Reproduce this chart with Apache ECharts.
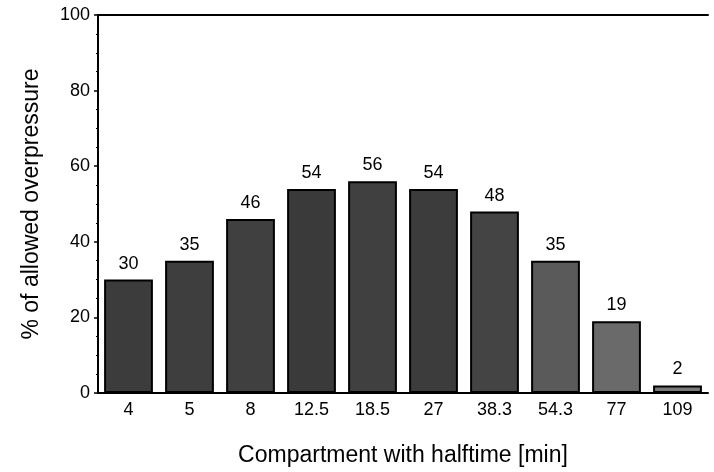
<!DOCTYPE html>
<html>
<head>
<meta charset="utf-8">
<script src="https://cdn.jsdelivr.net/npm/echarts@6/dist/echarts.min.js"></script>
<style>html,body{margin:0;padding:0;background:#fff}#c{width:714px;height:472px}</style>
</head>
<body>
<div id="c"></div>
<script>
var categories = ['4', '5', '8', '12.5', '18.5', '27', '38.3', '54.3', '77', '109'];
var values = [30, 35, 46, 54, 56, 54, 48, 35, 19, 2];
var barColors = ['#3c3c3c', '#3e3e3e', '#404040', '#3a3a3a', '#404040', '#3c3c3c', '#444444', '#5a5a5a', '#6a6a6a', '#7a7a7a'];
var yTicks = [0, 20, 40, 60, 80, 100];

var font = 'Liberation Sans, Arial, Helvetica, sans-serif';
var chart = echarts.init(document.getElementById('c'));
chart.setOption({
  animation: false,
  backgroundColor: '#ffffff',
  grid: { left: 98, right: 6, top: 15, bottom: 78 },
  xAxis: [{
    type: 'category',
    data: categories,
    name: 'Compartment with halftime [min]',
    nameLocation: 'middle',
    nameGap: 51,
    nameTextStyle: { fontFamily: font, fontSize: 23, color: '#000' },
    axisLine: { show: true, lineStyle: { color: '#000', width: 2 } },
    axisTick: { show: false },
    axisLabel: { fontFamily: font, fontSize: 18, color: '#000', margin: 8 }
  }, {
    type: 'category',
    data: categories,
    position: 'top',
    axisLine: { show: true, lineStyle: { color: '#000', width: 2 } },
    axisTick: { show: false },
    axisLabel: { show: false }
  }],
  yAxis: {
    type: 'value',
    min: yTicks[0],
    max: yTicks[yTicks.length - 1],
    interval: 20,
    name: '% of allowed overpressure',
    nameLocation: 'middle',
    nameGap: 55,
    nameTextStyle: { fontFamily: font, fontSize: 23, color: '#000' },
    axisLine: { show: true, lineStyle: { color: '#000', width: 2 } },
    axisTick: { show: true, length: 4, inside: false, lineStyle: { color: '#000', width: 1.5 } },
    minorTick: { show: true, splitNumber: 4, length: 2, lineStyle: { color: '#000' } },
    splitLine: { show: false },
    axisLabel: { fontFamily: font, fontSize: 18, color: '#000', margin: 8 }
  },
  series: [{
    type: 'bar',
    data: values.map(function (v, i) {
      return { value: v, itemStyle: { color: barColors[i] } };
    }),
    barCategoryGap: '20%',
    itemStyle: { borderColor: '#000', borderWidth: 2 },
    label: { show: true, position: 'top', distance: 7, fontFamily: font, fontSize: 18, color: '#000' }
  }]
});
</script>
</body>
</html>
